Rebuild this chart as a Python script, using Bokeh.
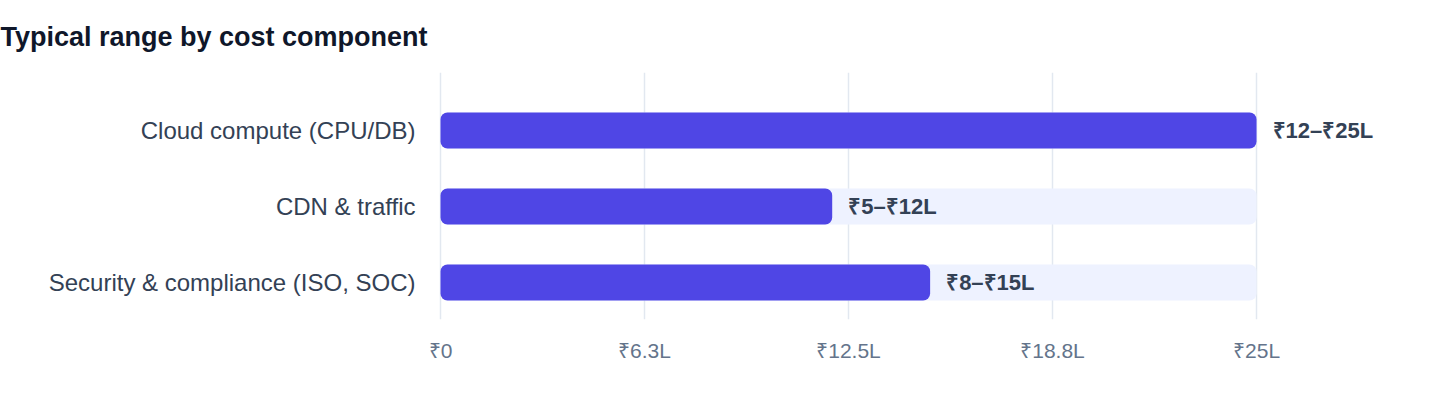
from bokeh.plotting import figure
from bokeh.models import ColumnDataSource, Range1d, FixedTicker
from bokeh.core.properties import value
from bokeh.embed import file_html
from bokeh.resources import INLINE

# ---- data ----
categories = ["Cloud compute (CPU/DB)", "CDN & traffic", "Security & compliance (ISO, SOC)"]
low_values = [12, 5, 8]          # ₹ lakh
high_values = [25, 12, 15]       # ₹ lakh
tick_values = [0, 6.25, 12.5, 18.75, 25]
tick_labels = ["₹0", "₹6.3L", "₹12.5L", "₹18.8L", "₹25L"]
title_text = "Typical range by cost component"

FONT = "Liberation Sans"
ypos = list(range(len(categories)))
track_max = max(high_values)

src = ColumnDataSource(dict(
    y=ypos,
    cat=categories,
    low=low_values,
    high=high_values,
    track=[track_max] * len(categories),
    label=[f"₹{lo}–₹{hi}L" for lo, hi in zip(low_values, high_values)],
))

p = figure(
    width=1424, height=392,
    output_backend="svg", toolbar_location=None,
    x_range=Range1d(-0.0613, 29.9),
    y_range=Range1d(2.487, -0.763),
    min_border_left=438, min_border_right=8,
    min_border_top=72, min_border_bottom=73,
    title=title_text,
)
p.outline_line_color = None
p.background_fill_color = "white"
p.border_fill_color = "white"

p.title.text_font = FONT
p.title.text_font_size = "27px"
p.title.text_font_style = "bold"
p.title.text_color = "#0f172a"
p.title.align = "left"
p.title.vertical_align = "top"
p.title.offset = -438
p.title.standoff = 38

# grid
p.ygrid.grid_line_color = None
p.xgrid.grid_line_color = "#e2e8f0"
p.xgrid.grid_line_width = 1.5
p.xgrid.ticker = FixedTicker(ticks=tick_values)

# x axis
p.xaxis.ticker = FixedTicker(ticks=tick_values)
p.xaxis.major_label_overrides = {t: l for t, l in zip(tick_values, tick_labels)}
p.xaxis.axis_line_color = None
p.xaxis.major_tick_line_color = None
p.xaxis.minor_tick_line_color = None
p.xaxis.major_label_text_font = FONT
p.xaxis.major_label_text_font_size = "21px"
p.xaxis.major_label_text_color = "#64748b"
p.xaxis.major_label_standoff = 13

# y axis
p.yaxis.ticker = FixedTicker(ticks=ypos)
p.yaxis.major_label_overrides = {i: c for i, c in zip(ypos, categories)}
p.yaxis.axis_line_color = None
p.yaxis.major_tick_line_color = None
p.yaxis.minor_tick_line_color = None
p.yaxis.major_label_text_font = FONT
p.yaxis.major_label_text_font_size = "24px"
p.yaxis.major_label_text_color = "#334155"
p.yaxis.major_label_standoff = 17

# tracks and bars
p.hbar(y="y", left=0, right="track", height=0.474, source=src,
       fill_color="#eef2ff", line_color=None, border_radius=7)
p.hbar(y="y", left=0, right="high", height=0.474, source=src,
       fill_color="#4f46e5", line_color=None, border_radius=7)

p.text(x="high", y="y", text="label", source=src, x_offset=16,
       text_baseline="middle", text_align="left",
       text_font=value(FONT), text_font_style="bold",
       text_font_size="22px", text_color="#334155")

open("out.html", "w").write(file_html(p, INLINE))
